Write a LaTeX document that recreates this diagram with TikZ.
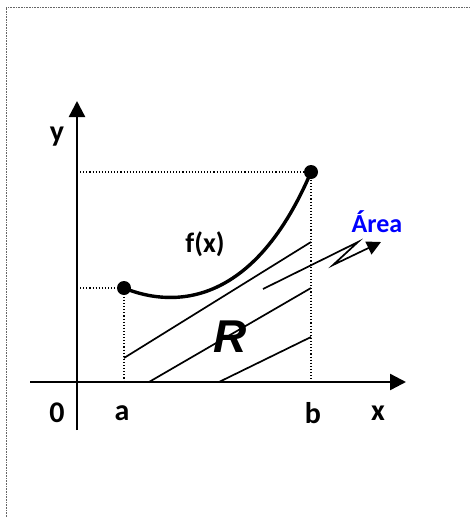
\documentclass[tikz,border=0pt]{standalone}
\usepackage{fontspec}
\setmainfont{Carlito}
\newfontfamily\rfont{Liberation Sans}
\usetikzlibrary{arrows.meta}
\begin{document}
\begin{tikzpicture}[x=1pt,y=-1pt,
  axis/.style={line width=2.4pt,-{Triangle[length=16pt,width=16pt]}},
  guide/.style={dotted,line width=1.1pt},
  frame/.style={densely dotted,line width=0.6pt,black!60},
  hatch/.style={line width=1.7pt},
  curve/.style={line width=3.4pt},
  pt/.style={circle,fill=black,inner sep=0pt,minimum size=14pt},
  lbl/.style={font=\fontsize{30}{34}\selectfont\bfseries,inner sep=0pt}]
\useasboundingbox (0,0) rectangle (469,517);
% frame
\draw[frame] (6,517) -- (6,7) -- (469,7);
% coordinates
\coordinate (O) at (77,382);
\coordinate (yb) at (77,430);
\coordinate (yt) at (77,101);
\coordinate (xl) at (30,382);
\coordinate (xr) at (406,382);
\coordinate (ax) at (124,382);
\coordinate (bx) at (311,382);
\coordinate (ay) at (77,288);
\coordinate (by) at (77,172);
% guides
\node[pt] (A) at (124,288) {};
\node[pt] (B) at (311,172) {};
\draw[guide] (ay) -- (A.center) -- (ax);
\draw[guide] (by) -- (B.center) -- (bx);
% hatch lines
\coordinate (h1a) at (124,358); \coordinate (h1b) at (311,242);
\coordinate (h2a) at (149,382); \coordinate (h2b) at (311,288);
\coordinate (h3a) at (219,382); \coordinate (h3b) at (311,337);
\draw[hatch] (h1a) -- (h1b);
\draw[hatch] (h2a) -- (h2b);
\draw[hatch] (h3a) -- (h3b);
% axes
\draw[axis] (yb) -- (yt);
\draw[axis] (xl) -- (xr);
% curve
\draw[curve] (A.center) .. controls (165,305) and (250,315) .. (B.center);
% area arrow
\coordinate (z0) at (263,289);
\coordinate (z1) at (358,242);
\coordinate (z2) at (333,265);
\coordinate (z3) at (381,242);
\draw[line width=1.7pt,-{Triangle[length=14pt,width=14pt]}] (z0) -- (z1) -- (z2) -- (z3);
% labels
\node[lbl] (ylab) at (57,137) {y};
\node[lbl] (zero) at (57,413) {0};
\node[lbl] (alab) at (122,413) {a};
\node[lbl] (blab) at (313,413) {b};
\node[lbl] (xlab) at (378,413) {x};
\node[lbl,font=\fontsize{28}{32}\selectfont\bfseries] (flab) at (205,244) {f(x)};
\node[lbl,font=\fontsize{26}{30}\selectfont\bfseries,text=blue] (area) at (377,222) {Área};
\node[inner sep=0pt,font=\rfont\fontsize{46}{50}\selectfont\bfseries\itshape] (R) at (230,337) {R};
\end{tikzpicture}
\end{document}
